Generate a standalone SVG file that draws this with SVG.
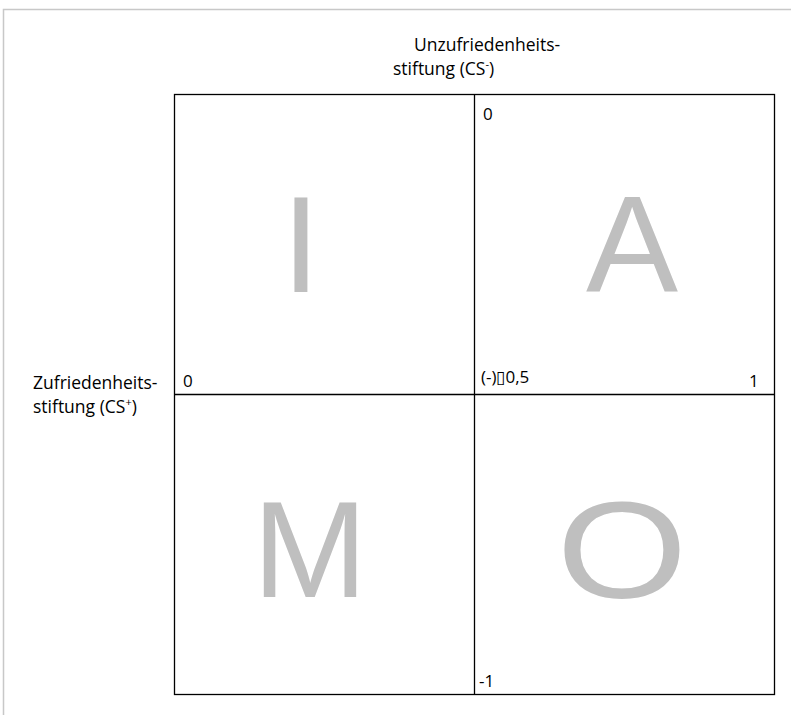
<svg xmlns="http://www.w3.org/2000/svg" width="791" height="715" viewBox="0 0 791 715">
<style>
.t{font-family:"Open Sans","Liberation Sans",sans-serif;font-size:17.5px;fill:#000}
.n{font-family:"Open Sans","Liberation Sans",sans-serif;font-size:17px;fill:#000}
.big{font-family:"Liberation Sans","Open Sans",sans-serif;font-size:138px;fill:#bfbfbf;text-anchor:middle}
.ln{stroke:#000;stroke-width:1.3;fill:none}
</style>
<rect width="791" height="715" fill="#fff"/>
<path d="M3.5 715 V9.5 H791" fill="none" stroke="#c8c8c8" stroke-width="1.5"/>
<g id="grid">
<rect class="ln" x="174.5" y="94.5" width="600" height="600"/>
<line class="ln" x1="474.5" y1="94.5" x2="474.5" y2="694.5"/>
<line class="ln" x1="174.5" y1="394.5" x2="774.5" y2="394.5"/>
</g>
<g id="q-I"><text class="big" x="301" y="292">I</text></g>
<g id="q-A"><text class="big" x="632" y="292">A</text></g>
<g id="q-M"><text class="big" x="310" y="597">M</text></g>
<g id="q-O"><text class="big" x="0" y="598" transform="translate(622 0) scale(1.22 1)">O</text></g>
<g id="axis-y">
<text class="t" x="414" y="51">Unzufriedenheits-</text>
<text class="t" x="393" y="75">stiftung (CS<tspan font-size="11" dy="-7">-</tspan><tspan dy="7">)</tspan></text>
</g>
<g id="axis-x">
<text class="t" x="33" y="389">Zufriedenheits-</text>
<text class="t" x="33" y="413">stiftung (CS<tspan font-size="11" dy="-7">+</tspan><tspan dy="7">)</tspan></text>
</g>
<g id="ticks">
<text class="n" x="483" y="120">0</text>
<text class="n" x="183" y="387">0</text>
<text class="n" x="481" y="383">(-)▯0,5</text>
<text class="n" x="749" y="387">1</text>
<text class="n" x="479" y="687">-1</text>
</g>
</svg>
